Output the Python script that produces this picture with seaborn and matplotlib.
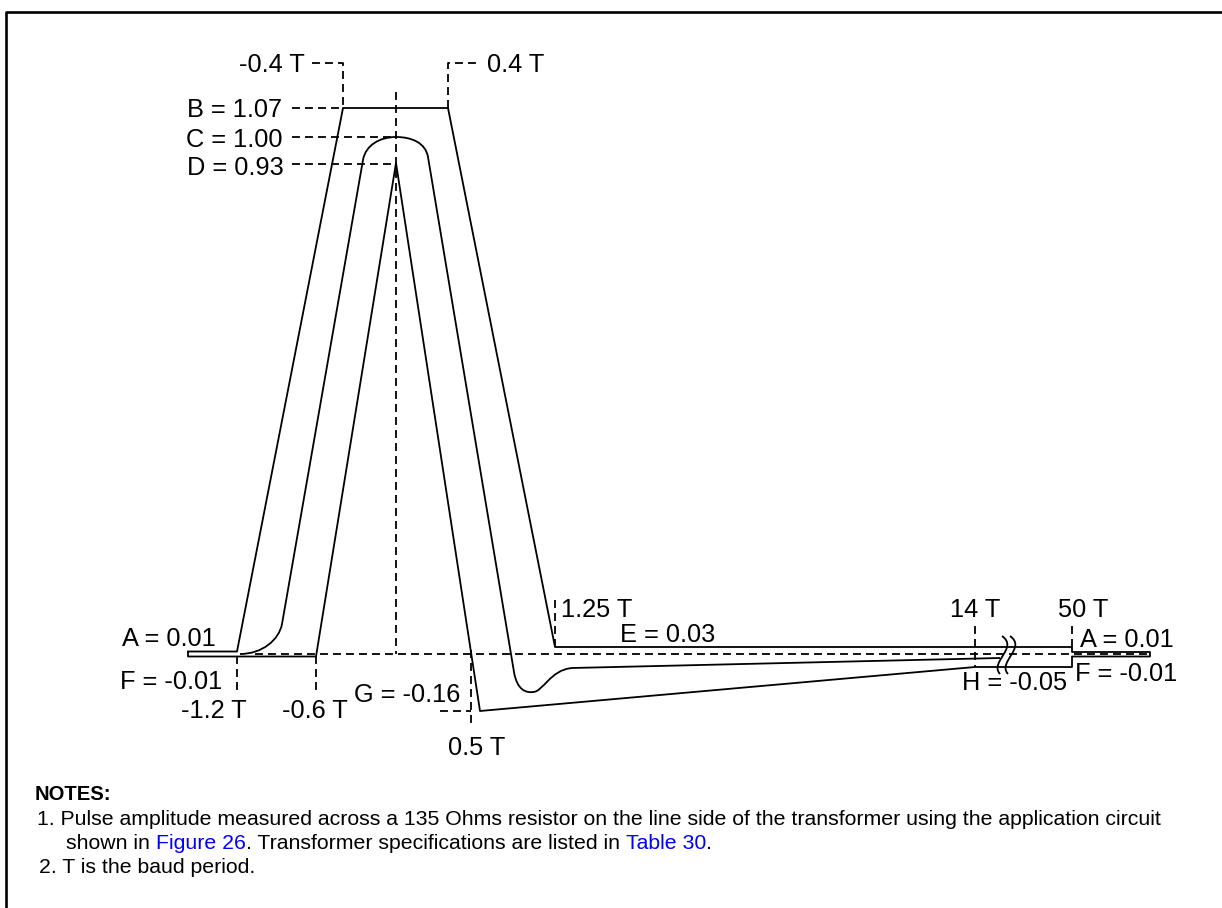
import numpy as np
import pandas as pd
import matplotlib
matplotlib.use("Agg")
import matplotlib.pyplot as plt
from matplotlib.path import Path
from matplotlib.patches import PathPatch
import seaborn as sns

# ---------------- data (schematic diagram units, y grows downward) -------------
# pulse mask outline (one closed polygon)
mask_x = [188, 237, 343, 448, 555, 1072, 1072, 1150, 1150, 1072, 1072, 975, 480, 396, 316, 188, 188]
mask_y = [651.5, 651.5, 108, 108, 647, 647, 652, 652, 656.5, 656.5, 667, 667, 711, 163, 656.5, 656.5, 651.5]

# typical pulse (vertices + path codes, curves as Bezier control points)
pulse_x = [240, 262, 279, 282, 363, 365.6, 380, 396, 412, 425.6, 428, 514, 517, 526, 533, 543, 550, 572, 1000]
pulse_y = [654, 654, 640, 624, 160, 145, 137, 137, 137, 143, 157, 672, 690, 693, 692, 692, 670, 668, 658]
pulse_codes = ["M", "C", "C", "C", "L", "C", "C", "C", "C", "C", "C", "L", "C", "C", "C", "C", "C", "C", "L"]

# break symbol (two S strokes)
break_x = [1002, 1019, 989, 1000]
break_y = [636, 648, 662, 674]
break_dx = [0, 8]

# dashed guide lines: segment id, x, y
guide_id = [0, 0, 0, 1, 1, 1, 2, 2, 3, 3, 4, 4, 5, 5, 6, 6, 7, 7, 8, 8, 9, 9, 10, 10, 11, 11, 12, 12, 13, 13]
guide_x = [312, 343, 343, 448, 448, 480, 292, 343, 292, 396, 292, 396, 396, 396, 255, 1150,
           237, 237, 316, 316, 440, 471, 471, 471, 555, 555, 975, 975, 1072, 1072]
guide_y = [63, 63, 108, 108, 63, 63, 108, 108, 137, 137, 164, 164, 92, 654, 654, 654,
           656, 690, 656, 690, 711, 711, 650, 728, 600, 647, 626, 667, 626, 647]

# labels: text, x, y (visual centre), horizontal alignment
label_text = ["-0.4 T", "0.4 T", "B = 1.07", "C = 1.00", "D = 0.93", "A = 0.01", "F = -0.01",
              "-1.2 T", "-0.6 T", "G = -0.16", "0.5 T", "1.25 T", "E = 0.03", "14 T", "50 T",
              "A = 0.01", "F = -0.01", "H = -0.05"]
label_x = [305, 487, 282, 283, 284, 122, 120, 181, 282, 354, 448, 561, 620, 950, 1058, 1080, 1075, 962]
label_y = [63, 63, 108, 138, 166, 637, 680, 709, 709, 693, 746, 608, 633, 608, 608, 638, 672, 681]
label_ha = ["right", "left", "right", "right", "right", "left", "left", "left", "left", "left",
            "left", "left", "left", "left", "left", "left", "left", "left"]

notes_title = "NOTES:"
note1a = "1. Pulse amplitude measured across a 135 Ohms resistor on the line side of the transformer using the application circuit"
note1b = ["shown in ", "Figure 26", ". Transformer specifications are listed in ", "Table 30", "."]
note1b_link = [False, True, False, True, False]
note2 = "2. T is the baud period."

# ---------------- styling ------------------------------------------------------
sns.set_theme(style="white")
plt.rcParams["font.family"] = ["Liberation Sans", "DejaVu Sans"]

W, H = 1222, 908
fig = plt.figure(figsize=(W / 100, H / 100), dpi=100)
ax = fig.add_axes([0, 0, 1, 1])

LW = 1.3
BLACK = "#000000"
DASH = (0, (4.4, 2.8))

# frame
ax.plot([6, 6, W], [H, 12, 12], color=BLACK, lw=1.9, solid_capstyle="butt")

# dashed guides
gdf = pd.DataFrame({"seg": guide_id, "x": guide_x, "y": guide_y})
sns.lineplot(data=gdf, x="x", y="y", units="seg", estimator=None, sort=False,
             color=BLACK, lw=LW, linestyle=DASH, ax=ax, legend=False)

# mask outline
mdf = pd.DataFrame({"x": mask_x, "y": mask_y})
sns.lineplot(data=mdf, x="x", y="y", estimator=None, sort=False,
             color=BLACK, lw=LW, ax=ax, legend=False)

# typical pulse
code_map = {"M": Path.MOVETO, "L": Path.LINETO, "C": Path.CURVE4}
pulse_path = Path(np.column_stack([pulse_x, pulse_y]), [code_map[c] for c in pulse_codes])
ax.add_patch(PathPatch(pulse_path, facecolor="none", edgecolor=BLACK, lw=LW))

# break symbol
for dx in break_dx:
    verts = np.column_stack([np.array(break_x) + dx, break_y])
    p = Path(verts, [Path.MOVETO, Path.CURVE4, Path.CURVE4, Path.CURVE4])
    ax.add_patch(PathPatch(p, facecolor="none", edgecolor=BLACK, lw=LW))

ax.set_xlim(0, W)
ax.set_ylim(H, 0)
ax.axis("off")

# labels
FS = 18.3
cap_off = FS * 100 / 72 * 0.716 / 2
for t, x, y, ha in zip(label_text, label_x, label_y, label_ha):
    ax.text(x, y + cap_off, t, ha=ha, va="baseline", fontsize=FS, color=BLACK)

# notes
NFS = 15.3
ncap = NFS * 100 / 72 * 0.716 / 2
TFS = 14.6
tcap = TFS * 100 / 72 * 0.716 / 2
ax.text(35, 793 + tcap, notes_title, fontsize=TFS, fontweight="bold",
        ha="left", va="baseline", color=BLACK)
ax.text(37, 817 + ncap, note1a, fontsize=NFS, ha="left", va="baseline", color=BLACK)
prev = ax.text(66, 841 + ncap, note1b[0], fontsize=NFS, ha="left", va="baseline", color=BLACK)
for piece, link in zip(note1b[1:], note1b_link[1:]):
    prev = ax.annotate(piece, xy=(1, 0), xycoords=prev, ha="left", va="bottom",
                       fontsize=NFS, color="#0000FF" if link else BLACK)
ax.text(39, 865 + ncap, note2, fontsize=NFS, ha="left", va="baseline", color=BLACK)

fig.savefig("out.png", dpi=100, facecolor="white")
